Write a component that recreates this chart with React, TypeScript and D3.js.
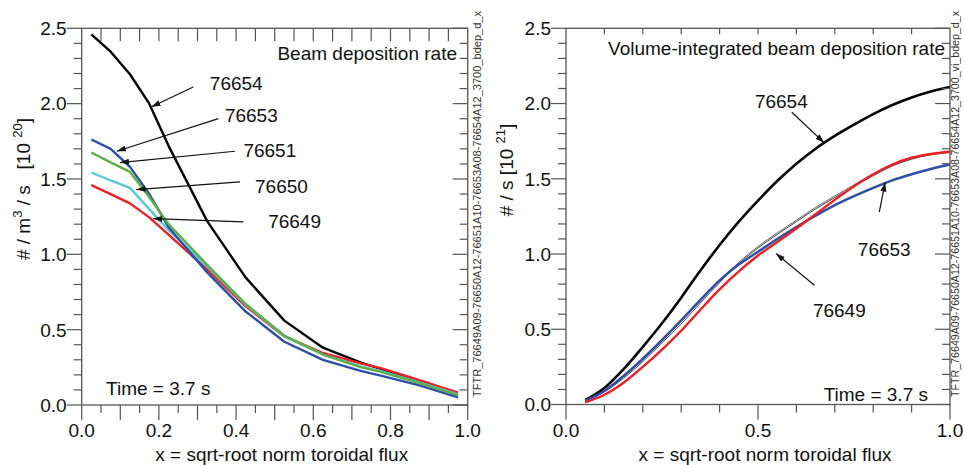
import React from 'react';
import * as d3 from 'd3';

// ---- data: left panel, beam deposition rate profile [1e20 /m3/s]
const xLeft = [0.025, 0.075, 0.125, 0.175, 0.225, 0.325, 0.425, 0.525, 0.625, 0.725, 0.775, 0.875, 0.975];
const dep76654 = [2.46, 2.345, 2.195, 2.0, 1.72, 1.22, 0.845, 0.56, 0.38, 0.28, 0.24, 0.16, 0.07];
const dep76653 = [1.762, 1.7, 1.58, 1.4, 1.18, 0.88, 0.62, 0.42, 0.3, 0.225, 0.195, 0.13, 0.05];
const dep76651 = [1.676, 1.61, 1.547, 1.38, 1.2, 0.93, 0.67, 0.46, 0.335, 0.25, 0.22, 0.145, 0.065];
const dep76650 = [1.543, 1.49, 1.441, 1.3, 1.16, 0.92, 0.665, 0.455, 0.335, 0.255, 0.225, 0.15, 0.07];
const dep76649 = [1.459, 1.4, 1.338, 1.245, 1.13, 0.9, 0.655, 0.455, 0.345, 0.275, 0.245, 0.165, 0.082];

// ---- data: right panel, volume-integrated deposition [1e21 /s]
const xRight = [0.05, 0.1, 0.15, 0.2, 0.25, 0.3, 0.35, 0.4, 0.45, 0.5, 0.55, 0.6, 0.65, 0.7, 0.75, 0.8, 0.85, 0.9, 0.95, 1.0];
const vi76654 = [0.03, 0.11, 0.235, 0.383, 0.54, 0.71, 0.89, 1.06, 1.215, 1.355, 1.485, 1.6, 1.7, 1.785, 1.86, 1.93, 1.99, 2.04, 2.08, 2.11];
const vi76653 = [0.025, 0.09, 0.19, 0.305, 0.43, 0.56, 0.695, 0.825, 0.93, 1.015, 1.1, 1.18, 1.255, 1.325, 1.385, 1.44, 1.49, 1.53, 1.565, 1.595];
const vi76651 = [0.03, 0.09, 0.185, 0.295, 0.42, 0.55, 0.69, 0.825, 0.945, 1.05, 1.14, 1.225, 1.31, 1.385, 1.46, 1.53, 1.59, 1.635, 1.665, 1.68];
const vi76650 = [0.028, 0.085, 0.175, 0.285, 0.41, 0.535, 0.675, 0.81, 0.935, 1.04, 1.13, 1.215, 1.3, 1.375, 1.45, 1.52, 1.585, 1.63, 1.66, 1.675];
const vi76649 = [0.015, 0.065, 0.145, 0.25, 0.365, 0.49, 0.63, 0.765, 0.885, 0.99, 1.08, 1.17, 1.265, 1.36, 1.45, 1.53, 1.595, 1.64, 1.665, 1.68];

const yTicks = [0, 0.5, 1.0, 1.5, 2.0, 2.5];
const xTicksLeft = [0, 0.2, 0.4, 0.6, 0.8, 1.0];
const xTicksRight = [0, 0.5, 1.0];

// annotations in data coords: [label, labelX, labelY, tailX, tailY, headX, headY]
const notesLeft: [string, number, number, number, number, number, number][] = [
  ['76654', 0.332, 2.089, 0.289, 2.11, 0.181, 1.979],
  ['76653', 0.371, 1.879, 0.354, 1.901, 0.091, 1.684],
  ['76651', 0.419, 1.647, 0.397, 1.684, 0.099, 1.609],
  ['76650', 0.449, 1.408, 0.41, 1.481, 0.142, 1.43],
  ['76649', 0.483, 1.172, 0.419, 1.215, 0.185, 1.237],
];
const notesRight: [string, number, number, number, number, number, number][] = [
  ['76654', 0.492, 1.973, 0.588, 1.942, 0.672, 1.74],
  ['76653', 0.76, 0.985, 0.816, 1.28, 0.831, 1.475],
  ['76649', 0.643, 0.582, 0.647, 0.792, 0.547, 1.003],
];

const FONT = 'Liberation Sans, Arial, Helvetica, sans-serif';
const AX = '#555';

type Series = { ys: number[]; color: string; w: number };

function Panel(props: {
  x: d3.ScaleLinear<number, number>;
  y: d3.ScaleLinear<number, number>;
  xs: number[];
  series: Series[];
  curve: d3.CurveFactory;
  xTicks: number[];
  xMinor: number[];
  xTopMinor: number[];
  topTickLen: number;
  xLabelFmt: (v: number) => string;
  notes: [string, number, number, number, number, number, number][];
  title: string;
  titleX: number;
  titleY: number;
  yTitle: React.ReactNode;
  yTitleX: number;
  yTitleY: number;
  idText: string;
  idX: number;
  timeX: number;
  timeY: number;
  timeAnchor: string;
}) {
  const { x, y } = props;
  const [x0, x1] = x.range();
  const [y0, y1] = y.range();
  const line = d3
    .line<number>()
    .x((_, i) => x(props.xs[i]))
    .y((d) => y(d))
    .curve(props.curve);
  const yMinor = d3.range(0, 26).map((i) => i / 10);
  return (
    <g fontFamily={FONT} fill="#111">
      {/* curves */}
      {props.series.map((s, i) => (
        <path key={i} d={line(s.ys) || ''} fill="none" stroke={s.color} strokeWidth={s.w} strokeLinejoin="round" />
      ))}
      {/* frame */}
      <rect x={x0} y={y1} width={x1 - x0} height={y0 - y1} fill="none" stroke={AX} strokeWidth={1.3} />
      {/* left ticks (outward) and right ticks (inward) */}
      {yMinor.map((v) => {
        const major = Math.abs(v * 2 - Math.round(v * 2)) < 1e-6;
        return (
          <g key={v} stroke={AX} strokeWidth={1.2}>
            <line x1={x0} x2={x0 - (major ? 15 : 8)} y1={y(v)} y2={y(v)} />
            <line x1={x1} x2={x1 - (major ? 15 : 8)} y1={y(v)} y2={y(v)} />
          </g>
        );
      })}
      {/* bottom ticks (outward) */}
      {props.xMinor.map((v) => {
        const major = props.xTicks.some((t) => Math.abs(t - v) < 1e-6);
        return <line key={'b' + v} x1={x(v)} x2={x(v)} y1={y0} y2={y0 + (major ? 15 : 8)} stroke={AX} strokeWidth={1.2} />;
      })}
      {/* top ticks (inward) */}
      {props.xTopMinor.map((v) => (
        <line key={'t' + v} x1={x(v)} x2={x(v)} y1={y1} y2={y1 + props.topTickLen} stroke={AX} strokeWidth={1.2} />
      ))}
      {/* tick labels */}
      {yTicks.map((v) => (
        <text key={'yl' + v} x={x0 - 15} y={y(v)} dy="0.36em" textAnchor="end" fontSize={19}>
          {v.toFixed(1)}
        </text>
      ))}
      {props.xTicks.map((v) => (
        <text key={'xl' + v} x={x(v)} y={437} textAnchor="middle" fontSize={19}>
          {props.xLabelFmt(v)}
        </text>
      ))}
      <text x={(x0 + x1) / 2 + 7} y={461} textAnchor="middle" fontSize={19}>
        x = sqrt-root norm toroidal flux
      </text>
      <text
        transform={`translate(${props.yTitleX},${props.yTitleY}) rotate(-90)`}
        textAnchor="middle"
        fontSize={19}
        style={{ whiteSpace: 'pre' }}
      >
        {props.yTitle}
      </text>
      <text x={props.titleX} y={props.titleY} textAnchor="end" fontSize={19}>
        {props.title}
      </text>
      <text x={props.timeX} y={props.timeY} textAnchor={props.timeAnchor} fontSize={19}>
        Time = 3.7 s
      </text>
      {/* shot annotations */}
      {props.notes.map(([lab, lx, ly, tx, ty, hx, hy]) => (
        <g key={lab}>
          <line x1={x(tx)} y1={y(ty)} x2={x(hx)} y2={y(hy)} stroke="#111" strokeWidth={1.2} markerEnd="url(#arrow)" />
          <text x={x(lx)} y={y(ly)} fontSize={19}>
            {lab}
          </text>
        </g>
      ))}
      <text
        transform={`translate(${props.idX},397) rotate(-90)`}
        fontSize={10.6}
        fill="#333"
        textLength={386}
        lengthAdjust="spacingAndGlyphs"
      >
        {props.idText}
      </text>
    </g>
  );
}

export default function App() {
  const xL = d3.scaleLinear().domain([0, 1]).range([81.7, 467.7]);
  const yL = d3.scaleLinear().domain([0, 2.5]).range([405, 28.3]);
  const xR = d3.scaleLinear().domain([0, 1]).range([566, 950]);
  const yR = d3.scaleLinear().domain([0, 2.5]).range([404.5, 28.3]);

  const leftSeries: Series[] = [
    { ys: dep76654, color: '#000', w: 2.4 },
    { ys: dep76649, color: '#ec1f24', w: 2.4 },
    { ys: dep76650, color: '#5cc6df', w: 2.4 },
    { ys: dep76653, color: '#2d4ea6', w: 2.4 },
    { ys: dep76651, color: '#58b046', w: 2.4 },
  ];
  const rightSeries: Series[] = [
    { ys: vi76654, color: '#000', w: 2.6 },
    { ys: vi76651, color: '#666', w: 1 },
    { ys: vi76650, color: '#444', w: 1 },
    { ys: vi76653, color: '#2d4ea6', w: 2.4 },
    { ys: vi76649, color: '#ec1f24', w: 2.4 },
  ];

  const sup = (s: string) => (
    <tspan fontSize={13} dy={-8}>
      {s}
    </tspan>
  );
  const down = (s: string) => <tspan dy={8}>{s}</tspan>;

  return (
    <svg
      width={964}
      height={465}
      style={{ position: 'absolute', left: 0, top: 0, background: '#fff' }}
    >
      <defs>
        <marker id="arrow" markerUnits="userSpaceOnUse" markerWidth={10} markerHeight={8} refX={9} refY={3} orient="auto">
          <path d="M0,0 L9,3 L0,6 Z" fill="#111" />
        </marker>
      </defs>
      <Panel
        x={xL}
        y={yL}
        xs={xLeft}
        series={leftSeries}
        curve={d3.curveLinear}
        xTicks={[0, 0.1, 0.2, 0.3, 0.4, 0.5, 0.6, 0.7, 0.8, 0.9, 1.0]}
        xMinor={d3.range(0, 21).map((i) => i / 20)}
        xTopMinor={d3.range(1, 20).map((i) => i / 20)}
        topTickLen={13}
        xLabelFmt={(v) => (xTicksLeft.some((t) => Math.abs(t - v) < 1e-6) ? v.toFixed(1) : '')}
        notes={notesLeft}
        title="Beam deposition rate"
        titleX={457}
        titleY={60}
        yTitle={
          <>
            {'# / m'}
            {sup('3')}
            {down(' / s   [10 ')}
            {sup('20')}
            {down(']')}
          </>
        }
        yTitleX={30}
        yTitleY={189}
        idText="TFTR_76649A09-76650A12-76651A10-76653A08-76654A12_3700_bdep_d_x"
        idX={481}
        timeX={xL(0.063)}
        timeY={395}
        timeAnchor="start"
      />
      <Panel
        x={xR}
        y={yR}
        xs={xRight}
        series={rightSeries}
        curve={d3.curveMonotoneX}
        xTicks={xTicksRight}
        xMinor={d3.range(0, 11).map((i) => i / 10)}
        xTopMinor={d3.range(1, 10).map((i) => i / 10)}
        topTickLen={6}
        xLabelFmt={(v) => v.toFixed(1)}
        notes={notesRight}
        title="Volume-integrated beam deposition rate"
        titleX={945}
        titleY={55}
        yTitle={
          <>
            {'# / s [10 '}
            {sup('21')}
            {down(']')}
          </>
        }
        yTitleX={513}
        yTitleY={170}
        idText="TFTR_76649A09-76650A12-76651A10-76653A08-76654A12_3700_vi_bdep_d_x"
        idX={959}
        timeX={928}
        timeY={401}
        timeAnchor="end"
      />
    </svg>
  );
}
